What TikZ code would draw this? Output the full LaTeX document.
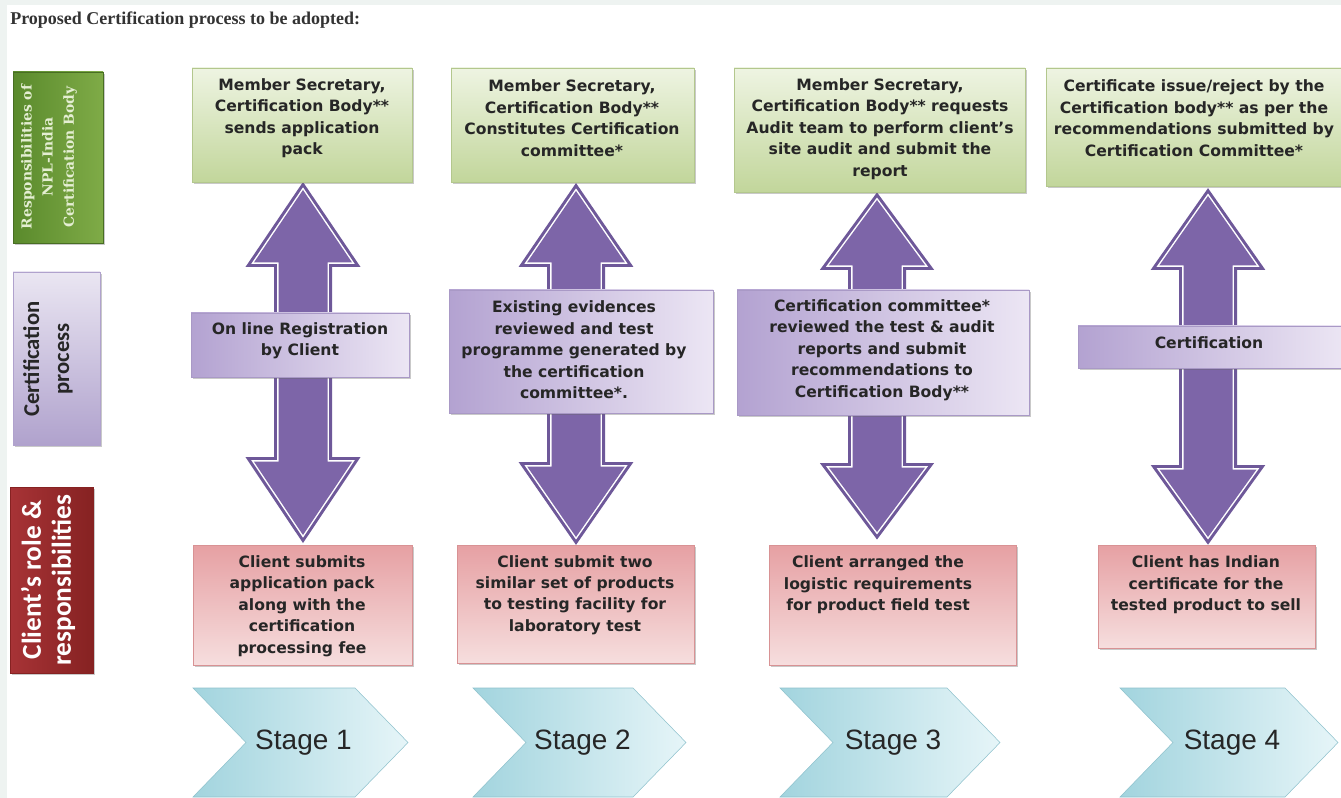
\documentclass[tikz,border=0pt]{standalone}
\usepackage{fontspec}
\setmainfont{DejaVu Sans}
\newfontfamily\titlefont{Liberation Serif}
\newfontfamily\serifb{DejaVu Serif}
\newfontfamily\carl{Carlito}
\newfontfamily\arialf{Liberation Sans}
\usetikzlibrary{shadows}
\definecolor{bgc}{HTML}{EEF3F1}
\definecolor{titlec}{HTML}{333333}
\definecolor{lgA}{HTML}{5A8A2C}
\definecolor{lgB}{HTML}{7FAB47}
\definecolor{llA}{HTML}{EAE6F2}
\definecolor{llB}{HTML}{B0A2CD}
\definecolor{lrA}{HTML}{A73336}
\definecolor{lrB}{HTML}{862222}
\definecolor{gtop}{HTML}{EEF4E2}
\definecolor{gbot}{HTML}{C2D69B}
\definecolor{gbord}{HTML}{B3C78D}
\definecolor{pleft}{HTML}{B3A2D1}
\definecolor{pright}{HTML}{ECE6F4}
\definecolor{pbord}{HTML}{A999C6}
\definecolor{rtop}{HTML}{E6A0A3}
\definecolor{rbot}{HTML}{F6DEDE}
\definecolor{rbord}{HTML}{D89294}
\definecolor{arrfill}{HTML}{7D65A8}
\definecolor{arrout}{HTML}{6E5899}
\definecolor{chA}{HTML}{A2D4DE}
\definecolor{chB}{HTML}{E6F5F8}
\definecolor{chbord}{HTML}{8FC2CD}
\definecolor{txt}{HTML}{262626}
\definecolor{lgtxt}{HTML}{E4EED2}
\tikzset{
  shad/.style={drop shadow={shadow xshift=1.6pt, shadow yshift=-1.6pt, opacity=0.35, fill=black!60}},
  gbox/.style={shad, top color=gtop, bottom color=gbot, draw=gbord, line width=0.4pt},
  pbox/.style={shad, left color=pleft, right color=pright, draw=pbord, line width=0.4pt},
  rbox/.style={shad, top color=rtop, bottom color=rbot, draw=rbord, line width=0.4pt},
  lgbox/.style={shad, left color=lgA, right color=lgB, draw=lgA!80!black, line width=0.4pt},
  llbox/.style={shad, top color=llA, bottom color=llB, draw=llB, line width=0.4pt},
  lrbox/.style={shad, left color=lrA, right color=lrB, draw=lrB, line width=0.4pt},
  btxt/.style={align=center, text=txt, inner sep=0pt, font=\bfseries\fontsize{11.7}{16.1}\selectfont},
  arrA/.style={draw=arrout, line width=6.75pt, line join=miter},
  arrB/.style={draw=white, line width=2.2pt, line join=miter},
  arrC/.style={fill=arrfill},
  chev/.style={left color=chA, right color=chB, draw=chbord, line width=0.4pt},
  stagetxt/.style={text=txt, inner sep=0pt, font=\arialf\fontsize{21}{24}\selectfont}
}
\newcommand\boxat[6]{%
  \pgfmathsetmacro\myBW{(#5-#3)*0.75}%
  \pgfmathsetmacro\myBH{(#6-#4)*0.75}%
  \pgfmathsetmacro\myBX{(#3+#5)/2}%
  \pgfmathsetmacro\myBY{(#4+#6)/2}%
  \node[#2, minimum width=\myBW pt, minimum height=\myBH pt, inner sep=0pt] (#1) at (\myBX,\myBY) {};}
\newcommand\dblarrow[5]{%
  \foreach \st in {arrA,arrB,arrC}{%
    \path[\st] (#1,#2+8) -- ({#1+(#3-#2-12.5)*57.5/(#3-#2)},#3-4.5) -- (#1+24.5,#3-4.5)
      -- (#1+24.5,#4+4.5) -- ({#1+(#5-#4-12.5)*57.5/(#5-#4)},#4+4.5) -- (#1,#5-8)
      -- ({#1-(#5-#4-12.5)*57.5/(#5-#4)},#4+4.5) -- (#1-24.5,#4+4.5)
      -- (#1-24.5,#3-4.5) -- ({#1-(#3-#2-12.5)*57.5/(#3-#2)},#3-4.5) -- cycle;}}
\newcommand\chevron[4]{% name, x0, x1, text
  \shade[chev] (#2,688) -- (#3-53,688) -- (#3,742.5) -- (#3-53,797) -- (#2,797) -- (#2+53,742.5) -- cycle;
  \node[stagetxt] (#1) at ({(#2+#3)/2+3},743) {#4};}
\begin{document}
\begin{tikzpicture}[x=0.75pt,y=-0.75pt]
\useasboundingbox (0,0) rectangle (1341,798);
\fill[bgc] (0,0) rectangle (1341,798);
\fill[white] (7,5) rectangle (1341,798);

\node[anchor=west, inner sep=0pt, text=titlec, font=\titlefont\bfseries\fontsize{13.5}{15}\selectfont] (title) at (10,20) {Proposed Certification process to be adopted:};

% left labels
\boxat{lab1}{lgbox}{13}{72}{103}{243}
\node[rotate=90, align=center, inner sep=0pt, text=lgtxt, font=\serifb\bfseries\fontsize{10.4}{15.8}\selectfont] (lab1t) at (49,157) {Responsibilities of\\NPL-India\\Certification Body};
\boxat{lab2}{llbox}{13}{272}{100}{445}
\node[rotate=90, align=center, inner sep=0pt, text=txt, font=\carl\bfseries\fontsize{17}{22.5}\selectfont] (lab2t) at (48,359) {Certification\\process};
\boxat{lab3}{lrbox}{10}{487}{93}{673}
\node[rotate=90, align=center, inner sep=0pt, text=white, font=\carl\bfseries\fontsize{20.5}{22.5}\selectfont] (lab3t) at (48,580) {Client’s role \&\\responsibilities};

% arrows
\dblarrow{303}{182}{267}{457}{543}
\dblarrow{576}{183}{267}{462}{545}
\dblarrow{877}{192}{270}{463}{540}
\dblarrow{1208}{188}{270}{465}{545}

% column 1
\boxat{g1}{gbox}{192}{68}{412}{182}
\node[btxt] (g1t) at (302,118) {Member Secretary,\\Certification Body**\\sends application\\pack};
\boxat{p1}{pbox}{191}{313}{409}{377}
\node[btxt] (p1t) at (300,341) {On line Registration\\by Client};
\boxat{r1}{rbox}{193}{545}{412}{665}
\node[btxt] (r1t) at (302,606) {Client submits\\application pack\\along with the\\certification\\processing fee};
\chevron{s1}{193}{408}{Stage 1}

% column 2
\boxat{g2}{gbox}{451}{68}{694}{182}
\node[btxt] (g2t) at (572,118) {Member Secretary,\\Certification Body**\\Constitutes Certification\\committee*};
\boxat{p2}{pbox}{449}{290}{713}{413}
\node[btxt] (p2t) at (574,350) {Existing evidences\\reviewed and test\\programme generated by\\the certification\\committee*.};
\boxat{r2}{rbox}{457}{545}{694}{663}
\node[btxt] (r2t) at (575,595) {Client submit two\\similar set of products\\to testing facility for\\laboratory test};
\chevron{s2}{473}{686}{Stage 2}

% column 3
\boxat{g3}{gbox}{734}{68}{1025}{192}
\node[btxt] (g3t) at (880,129) {Member Secretary,\\Certification Body** requests\\Audit team to perform client’s\\site audit and submit the\\report};
\boxat{p3}{pbox}{737}{290}{1029}{415}
\node[btxt] (p3t) at (882,350) {Certification committee*\\reviewed the test \& audit\\reports and submit\\recommendations to\\Certification Body**};
\boxat{r3}{rbox}{769}{545}{1016}{665}
\node[btxt] (r3t) at (878,585) {Client arranged the\\logistic requirements\\for product field test};
\chevron{s3}{780}{1000}{Stage 3}

% column 4
\boxat{g4}{gbox}{1046}{68}{1345}{186}
\node[btxt] (g4t) at (1194,118) {Certificate issue/reject by the\\Certification body** as per the\\recommendations submitted by\\Certification Committee*};
\boxat{p4}{pbox}{1078}{326}{1345}{368}
\node[btxt] (p4t) at (1209,343) {Certification};
\boxat{r4}{rbox}{1098}{545}{1315}{648}
\node[btxt] (r4t) at (1206,585) {Client has Indian\\certificate for the\\tested product to sell};
\chevron{s4}{1120}{1338}{Stage 4}
\end{tikzpicture}
\end{document}
